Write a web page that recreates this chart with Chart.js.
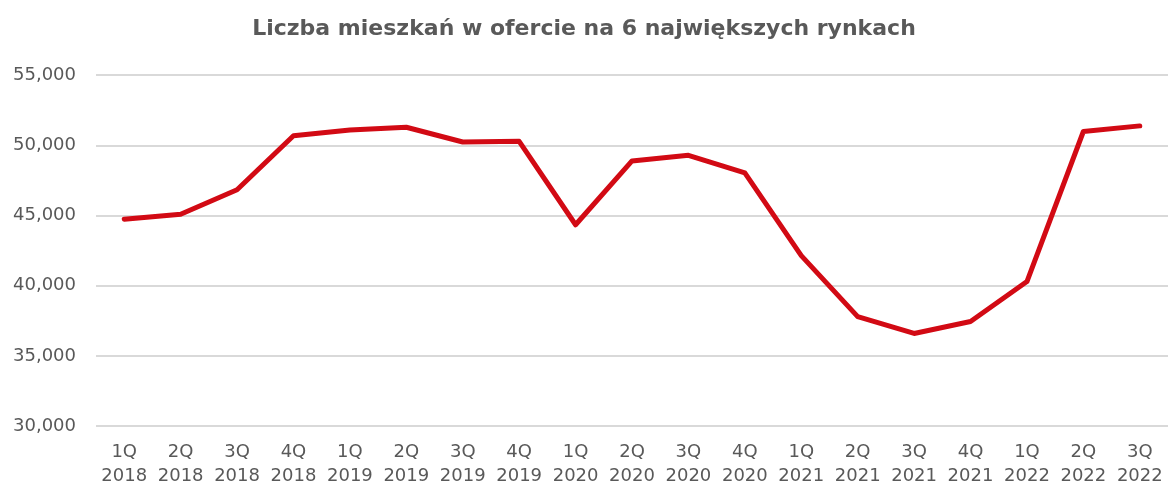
<!DOCTYPE html>
<html>
<head>
<meta charset="utf-8">
<script src="https://cdn.jsdelivr.net/npm/chart.js@4/dist/chart.umd.min.js"></script>
<style>
html,body{margin:0;padding:0;background:#fff;}
#wrap{width:1169px;height:486px;}
</style>
</head>
<body>
<div id="wrap"><canvas id="c" width="1169" height="486"></canvas></div>
<script>
const quarters = ["1Q","2Q","3Q","4Q","1Q","2Q","3Q","4Q","1Q","2Q","3Q","4Q","1Q","2Q","3Q","4Q","1Q","2Q","3Q"];
const years = ["2018","2018","2018","2018","2019","2019","2019","2019","2020","2020","2020","2020","2021","2021","2021","2021","2022","2022","2022"];
const offers = [44750,45100,46850,50700,51100,51300,50250,50300,44350,48900,49300,48050,42150,37800,36600,37450,40300,51000,51400];
const yTicks = [30000,35000,40000,45000,50000,55000];

const labels = quarters.map((q,i)=>[q, years[i]]);
const FONT = "'DejaVu Sans', sans-serif";
new Chart(document.getElementById('c'), {
  type: 'line',
  data: {
    labels: labels,
    datasets: [{
      data: offers,
      borderColor: '#D20A14',
      borderWidth: 5,
      pointRadius: 0,
      tension: 0,
      fill: false,
      borderCapStyle: 'round',
      borderJoinStyle: 'round'
    }]
  },
  options: {
    responsive: false,
    animation: false,
    layout: { padding: { left: 0, right: 1, top: 0, bottom: 0 } },
    plugins: {
      legend: { display: false },
      tooltip: { enabled: false },
      title: {
        display: true,
        text: 'Liczba mieszkań w ofercie na 6 największych rynkach',
        color: '#595959',
        font: { family: FONT, size: 22, weight: 'bold' },
        padding: { top: 16, bottom: 33 }
      }
    },
    scales: {
      x: {
        offset: true,
        afterFit: (axis) => { axis.height = 60; axis.paddingRight = 0; axis.paddingLeft = 0; },
        grid: { display: false, drawTicks: false },
        border: { display: false },
        ticks: {
          color: '#595959',
          font: { family: FONT, size: 18, lineHeight: 1.33 },
          padding: 14,
          maxRotation: 0,
          autoSkip: false
        }
      },
      y: {
        min: 30000,
        max: 55000,
        afterBuildTicks: (axis) => { axis.ticks = yTicks.map(v => ({ value: v })); },
        afterFit: (axis) => { axis.width = 96; },
        grid: { color: '#D9D9D9', lineWidth: 2, drawTicks: false },
        border: { display: false },
        ticks: {
          color: '#595959',
          font: { family: FONT, size: 18 },
          padding: 20,
          callback: (v) => v.toLocaleString('en-US')
        }
      }
    }
  }
});
</script>
</body>
</html>
